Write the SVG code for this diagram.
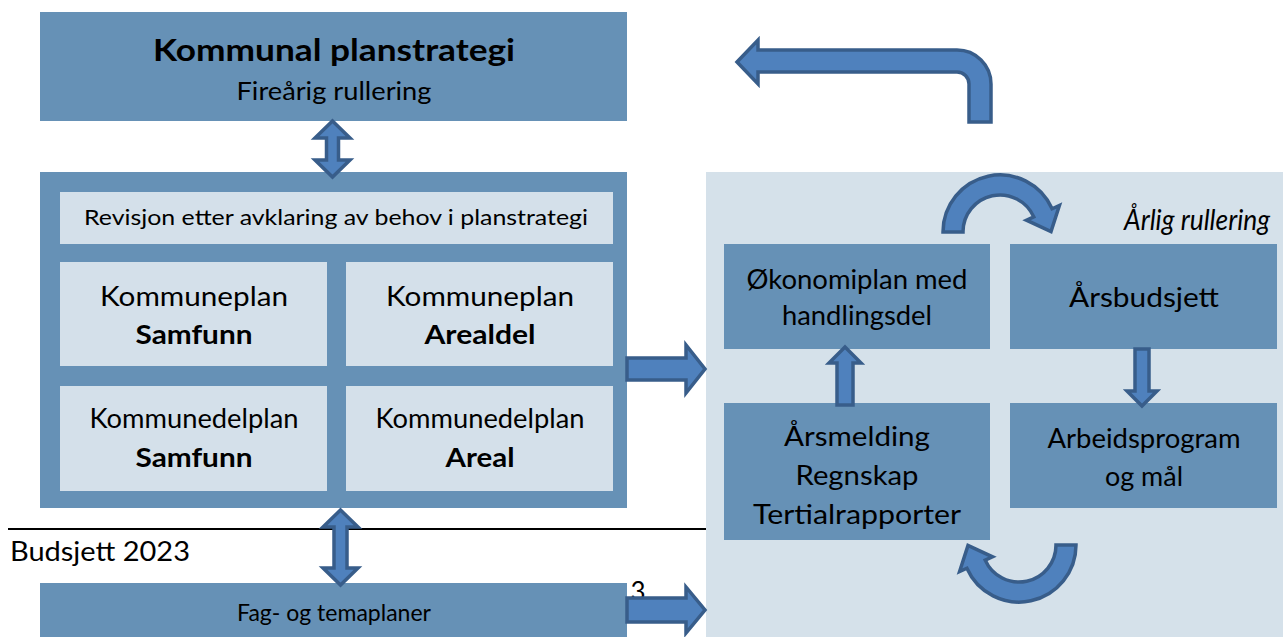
<svg xmlns="http://www.w3.org/2000/svg" width="1283" height="637" viewBox="0 0 1283 637">
<style>
.box{fill:#6691b6}
.lt{fill:#d4e0ea}
.t{font-family:Lato,"Open Sans","Liberation Sans",sans-serif;fill:#000;text-anchor:middle}
.b{font-weight:bold}
.arr{fill:#4f81bd;stroke:#385d8a;stroke-width:3.5;stroke-linejoin:miter}
</style>
<rect x="0" y="0" width="1283" height="637" fill="#ffffff"/>
<g id="panel"><rect x="706" y="172" width="577" height="465" fill="#d5e1ea"/></g>
<g id="planstrategi">
<rect class="box" x="40" y="12" width="587" height="109"/>
<text class="t b" x="334" y="61" font-size="31" textLength="362" lengthAdjust="spacingAndGlyphs">Kommunal planstrategi</text>
<text class="t" x="334" y="100" font-size="25" textLength="195" lengthAdjust="spacingAndGlyphs">Fireårig rullering</text>
</g>
<g id="kommuneplan">
<rect class="box" x="40" y="172" width="587" height="336"/>
<g id="revisjon"><rect class="lt" x="60" y="192" width="553" height="52"/>
<text class="t" x="336" y="225" font-size="21" textLength="504" lengthAdjust="spacingAndGlyphs">Revisjon etter avklaring av behov i planstrategi</text></g>
<g id="kp-samfunn"><rect class="lt" x="60" y="262" width="267" height="104"/>
<text class="t" x="194" y="306" font-size="27" textLength="188" lengthAdjust="spacingAndGlyphs">Kommuneplan</text>
<text class="t b" x="194" y="344" font-size="27" textLength="117" lengthAdjust="spacingAndGlyphs">Samfunn</text></g>
<g id="kp-arealdel"><rect class="lt" x="346" y="262" width="267" height="104"/>
<text class="t" x="480" y="306" font-size="27" textLength="188" lengthAdjust="spacingAndGlyphs">Kommuneplan</text>
<text class="t b" x="480" y="344" font-size="27" textLength="111" lengthAdjust="spacingAndGlyphs">Arealdel</text></g>
<g id="kdp-samfunn"><rect class="lt" x="60" y="386" width="267" height="105"/>
<text class="t" x="194" y="428" font-size="27" textLength="209" lengthAdjust="spacingAndGlyphs">Kommunedelplan</text>
<text class="t b" x="194" y="467" font-size="27" textLength="117" lengthAdjust="spacingAndGlyphs">Samfunn</text></g>
<g id="kdp-areal"><rect class="lt" x="346" y="386" width="267" height="105"/>
<text class="t" x="480" y="428" font-size="27" textLength="209" lengthAdjust="spacingAndGlyphs">Kommunedelplan</text>
<text class="t b" x="480" y="467" font-size="27" textLength="69" lengthAdjust="spacingAndGlyphs">Areal</text></g>
</g>
<g id="budsjett-label">
<line x1="8" y1="529" x2="706" y2="529" stroke="#000" stroke-width="2"/>
<text class="t" x="10" y="561" font-size="26" style="text-anchor:start" textLength="180" lengthAdjust="spacingAndGlyphs">Budsjett 2023</text>
</g>
<g id="fagplaner">
<rect class="box" x="40" y="583" width="587" height="54"/>
<text class="t" x="334" y="621" font-size="24" textLength="194" lengthAdjust="spacingAndGlyphs">Fag- og temaplaner</text>
</g>
<text class="t" x="638" y="601" font-size="26">3</text>
<g id="okonomiplan"><rect class="box" x="724" y="244" width="266" height="105"/>
<text class="t" x="857" y="289" font-size="26" textLength="221" lengthAdjust="spacingAndGlyphs">Økonomiplan med</text>
<text class="t" x="857" y="325" font-size="26" textLength="150" lengthAdjust="spacingAndGlyphs">handlingsdel</text></g>
<g id="arsbudsjett"><rect class="box" x="1010" y="244" width="267" height="105"/>
<text class="t" x="1144" y="307" font-size="26" textLength="150" lengthAdjust="spacingAndGlyphs">Årsbudsjett</text></g>
<g id="arsmelding"><rect class="box" x="724" y="403" width="266" height="137"/>
<text class="t" x="857" y="446" font-size="26" textLength="146" lengthAdjust="spacingAndGlyphs">Årsmelding</text>
<text class="t" x="857" y="485" font-size="26" textLength="123" lengthAdjust="spacingAndGlyphs">Regnskap</text>
<text class="t" x="857" y="524" font-size="26" textLength="208" lengthAdjust="spacingAndGlyphs">Tertialrapporter</text></g>
<g id="arbeidsprogram"><rect class="box" x="1010" y="403" width="267" height="105"/>
<text class="t" x="1144" y="448" font-size="26" textLength="193" lengthAdjust="spacingAndGlyphs">Arbeidsprogram</text>
<text class="t" x="1144" y="486" font-size="26" textLength="78" lengthAdjust="spacingAndGlyphs">og mål</text></g>
<text class="t" x="1197" y="230" font-size="28" font-style="italic" textLength="146" lengthAdjust="spacingAndGlyphs">Årlig rullering</text>
<defs>
<path id="curve" d="M943 232 A57 57 0 0 1 1052.1 208.8 L1059.4 205.5 L1051 231.5 L1026.5 220.2 L1033.8 216.9 A37 37 0 0 0 963 232 Z"/>
</defs>
<g id="connectors">
<path class="arr" d="M332.5 121 L350 138 L338.5 138 L338.5 160 L350 160 L332.5 177 L315 160 L326.5 160 L326.5 138 L315 138 Z"/>
<path class="arr" d="M340.5 510 L358 527 L347 527 L347 568 L358 568 L340.5 585 L323 568 L334 568 L334 527 L323 527 Z"/>
<path class="arr" d="M627 358 L686 358 L686 345 L705 369 L686 393 L686 380 L627 380 Z"/>
<path class="arr" d="M627 598 L686 598 L686 587 L705 610 L686 633 L686 622 L627 622 Z"/>
<path class="arr" d="M845 347 L861 363 L853 363 L853 405 L837 405 L837 363 L829 363 Z"/>
<path class="arr" d="M1142 406 L1157 391 L1149 391 L1149 349 L1135 349 L1135 391 L1127 391 Z"/>
<path class="arr" d="M737 62 L758 40 L758 50 L957 50 A34 34 0 0 1 991 84 L991 122 L969 122 L969 84 A12 12 0 0 0 957 72 L758 72 L758 84 Z"/>
<use href="#curve" class="arr"/>
<use href="#curve" class="arr" transform="rotate(180 1009.5 388.5)"/>
</g>
</svg>
